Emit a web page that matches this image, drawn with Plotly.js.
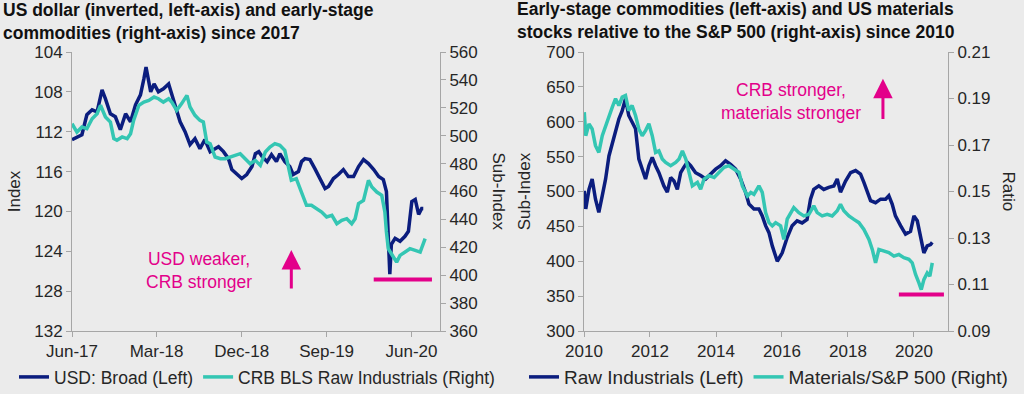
<!DOCTYPE html>
<html>
<head>
<meta charset="utf-8">
<script src="https://cdn.plot.ly/plotly-3.0.1.min.js"></script>
<style>
  html, body { margin: 0; padding: 0; background: #ebebeb; }
  #chart { width: 1024px; height: 394px; }
</style>
</head>
<body>
<div id="chart"></div>
<script>
// ---------- Left chart: USD broad (inverted, left) and CRB BLS Raw Industrials (right) ----------
const usdDates = ['2017-06-01','2017-07-03','2017-07-19','2017-08-05','2017-08-21','2017-09-06','2017-09-17','2017-10-03','2017-10-19','2017-11-04','2017-11-21','2017-12-07','2017-12-23','2018-01-08','2018-01-19','2018-01-26','2018-02-10','2018-02-21','2018-03-07','2018-03-23','2018-04-09','2018-04-19','2018-04-30','2018-05-16','2018-06-01','2018-06-17','2018-07-03','2018-07-19','2018-08-04','2018-08-21','2018-09-06','2018-09-17','2018-10-03','2018-10-19','2018-10-30','2018-11-15','2018-12-01','2018-12-17','2019-01-03','2019-01-14','2019-01-25','2019-02-05','2019-02-21','2019-03-07','2019-03-23','2019-04-03','2019-04-19','2019-05-05','2019-05-16','2019-06-02','2019-06-12','2019-06-23','2019-07-09','2019-07-25','2019-08-11','2019-08-27','2019-09-07','2019-09-23','2019-10-09','2019-10-25','2019-11-10','2019-11-27','2019-12-13','2019-12-29','2020-01-14','2020-01-31','2020-02-16','2020-03-02','2020-03-12','2020-03-18','2020-03-23','2020-03-28','2020-04-09','2020-04-25','2020-05-11','2020-05-22','2020-06-02','2020-06-13','2020-06-24','2020-07-04','2020-07-09'];
const usdValues = [112.8,112.3,110.3,109.8,110.0,107.8,108.7,110.2,110.5,111.8,110.2,111.0,109.3,108.3,106.7,105.5,108.0,107.2,108.0,107.7,107.2,108.3,109.5,111.0,112.0,113.3,112.7,113.7,112.8,114.0,113.7,113.5,114.0,114.7,115.8,116.3,116.7,116.3,115.5,114.2,114.0,114.5,115.0,114.3,115.0,114.2,115.0,115.5,116.3,116.0,115.0,114.7,114.8,115.7,116.8,117.7,117.5,116.7,116.3,115.8,116.5,116.5,115.5,114.8,115.2,115.8,116.5,116.8,118.0,122.7,126.3,123.3,122.7,123.0,122.5,122.0,119.0,118.8,120.3,119.7,119.7];

const crbDates = ['2017-06-01','2017-06-17','2017-07-03','2017-07-19','2017-08-05','2017-08-21','2017-09-01','2017-09-17','2017-10-03','2017-10-14','2017-10-24','2017-11-10','2017-11-26','2017-12-07','2017-12-17','2018-01-03','2018-01-19','2018-02-04','2018-02-21','2018-03-07','2018-03-23','2018-04-09','2018-04-19','2018-05-05','2018-05-21','2018-06-07','2018-06-17','2018-07-03','2018-07-19','2018-07-30','2018-08-10','2018-08-21','2018-09-06','2018-09-23','2018-10-09','2018-10-25','2018-11-10','2018-11-26','2018-12-12','2018-12-28','2019-01-14','2019-01-30','2019-02-15','2019-03-02','2019-03-18','2019-04-03','2019-04-19','2019-04-30','2019-05-10','2019-05-26','2019-06-12','2019-06-28','2019-07-14','2019-07-30','2019-08-16','2019-09-01','2019-09-18','2019-10-04','2019-10-20','2019-11-05','2019-11-21','2019-12-02','2019-12-13','2019-12-29','2020-01-14','2020-01-25','2020-02-10','2020-02-26','2020-03-07','2020-03-12','2020-03-18','2020-03-28','2020-04-14','2020-04-25','2020-05-11','2020-05-27','2020-06-13','2020-06-29','2020-07-15'];
const crbValues = [508.6,502.6,506.2,505.0,512.2,515.8,521.8,513.4,509.8,497.9,496.7,499.1,497.9,501.4,511.0,521.8,524.1,525.3,527.7,526.5,524.1,526.5,524.1,518.2,523.0,528.9,520.6,514.6,511.0,509.8,495.5,494.3,484.7,483.5,483.5,484.7,485.9,487.1,483.5,479.9,482.3,478.7,488.3,491.9,494.3,493.1,489.5,478.7,468.0,469.2,458.4,450.1,450.1,447.7,445.3,441.7,442.9,436.9,439.3,440.5,436.9,440.5,451.3,453.6,468.0,463.2,459.6,457.2,445.3,431.0,419.0,415.4,409.4,414.2,416.6,419.0,417.8,416.6,426.2];

const leftNames = ['USD: Broad (Left)', 'CRB BLS Raw Industrials (Right)'];
const leftTitle = 'US dollar (inverted, left-axis) and early-stage<br>commodities (right-axis) since 2017';

// ---------- Right chart: Raw Industrials (left) and Materials/S&P 500 (right) ----------
const rawDates = ['2010-01-04','2010-01-20','2010-02-25','2010-04-01','2010-05-08','2010-06-14','2010-07-22','2010-08-28','2010-10-04','2010-11-10','2010-12-16','2011-01-22','2011-02-28','2011-04-05','2011-05-11','2011-06-17','2011-07-25','2011-08-31','2011-10-07','2011-11-13','2011-12-20','2012-01-26','2012-03-03','2012-04-09','2012-06-03','2012-07-11','2012-08-17','2012-09-23','2012-10-30','2012-12-06','2013-01-11','2013-02-17','2013-03-26','2013-05-20','2013-07-15','2013-09-09','2013-11-03','2013-12-28','2014-02-21','2014-04-17','2014-06-11','2014-08-06','2014-09-30','2014-11-24','2015-01-01','2015-02-25','2015-04-21','2015-05-28','2015-07-04','2015-08-10','2015-09-16','2015-11-10','2016-01-04','2016-02-28','2016-04-23','2016-06-17','2016-08-11','2016-10-05','2016-11-12','2016-12-18','2017-02-12','2017-04-08','2017-06-02','2017-07-28','2017-09-04','2017-10-10','2017-12-05','2018-01-30','2018-03-26','2018-05-20','2018-06-26','2018-08-02','2018-09-08','2018-11-02','2018-12-28','2019-02-21','2019-03-29','2019-05-05','2019-06-10','2019-08-06','2019-09-30','2019-11-24','2020-01-01','2020-02-07','2020-03-14','2020-04-20','2020-05-27','2020-07-03','2020-07-22'];
const rawValues = [501,475,503,518,489,470,494,518,551,570,590,604,616,633,609,599,590,546.5,532,518,537,549,537,527,508,499,520,515,503,527,535,542,537,527,523,518,525,532,537,544,539,532,518,499,482,475,475,465,451,441,422,400,412,434,451,458,455,460,489,503,508,503,506,508,518,499,515,527,530,525,513,499,487,484,489,489,494,482,465,451,439,443,465,458,436,412,422,424,427];

const matDates = ['2010-01-04','2010-01-20','2010-02-25','2010-04-01','2010-05-08','2010-06-14','2010-07-22','2010-08-28','2010-10-04','2010-11-10','2010-12-16','2011-01-22','2011-02-28','2011-04-05','2011-05-11','2011-06-17','2011-07-25','2011-08-31','2011-10-07','2011-11-13','2011-12-20','2012-01-26','2012-03-03','2012-04-09','2012-05-16','2012-06-22','2012-08-17','2012-10-12','2012-11-18','2012-12-25','2013-01-31','2013-03-08','2013-04-14','2013-06-09','2013-07-15','2013-08-21','2013-10-16','2013-12-11','2014-02-04','2014-03-31','2014-05-25','2014-07-20','2014-09-13','2014-10-20','2014-12-15','2015-01-21','2015-02-25','2015-04-21','2015-05-28','2015-07-04','2015-08-10','2015-09-16','2015-10-23','2015-12-17','2016-01-22','2016-02-28','2016-04-04','2016-05-11','2016-07-06','2016-08-30','2016-10-25','2016-12-18','2017-01-25','2017-03-21','2017-05-16','2017-07-10','2017-09-04','2017-10-10','2017-11-16','2018-01-11','2018-03-07','2018-05-02','2018-06-26','2018-08-21','2018-09-27','2018-11-02','2018-12-09','2019-02-02','2019-03-29','2019-05-24','2019-07-18','2019-09-12','2019-11-06','2019-12-13','2020-01-19','2020-02-25','2020-03-22','2020-04-20','2020-05-27','2020-06-25','2020-07-22'];
const matValues = [0.1841,0.1740,0.1791,0.1769,0.1697,0.1668,0.1740,0.1783,0.1827,0.1863,0.1899,0.1870,0.1906,0.1913,0.1848,0.1870,0.1827,0.1769,0.1740,0.1762,0.1791,0.1740,0.1668,0.1675,0.1640,0.1625,0.1611,0.1625,0.1640,0.1675,0.1640,0.1582,0.1524,0.1539,0.1510,0.1553,0.1568,0.1560,0.1582,0.1604,0.1611,0.1596,0.1582,0.1524,0.1481,0.1496,0.1488,0.1524,0.1496,0.1409,0.1366,0.1352,0.1366,0.1352,0.1294,0.1381,0.1409,0.1431,0.1409,0.1395,0.1402,0.1438,0.1409,0.1395,0.1402,0.1395,0.1417,0.1445,0.1417,0.1395,0.1380,0.1366,0.1337,0.1294,0.1251,0.1193,0.1251,0.1244,0.1237,0.1222,0.1229,0.1215,0.1208,0.1193,0.1143,0.1107,0.1078,0.1121,0.1150,0.1136,0.1193];

const rightNames = ['Raw Industrials (Left)', 'Materials/S&P 500 (Right)'];
const rightTitle = 'Early-stage commodities (left-axis) and US materials<br>stocks relative to the S&P 500 (right-axis) since 2010';

// ---------- styles ----------
const NAVY = '#0b1d7e';
const TEAL = '#34c6b3';
const MAG = '#e3008a';
const BG = '#ebebeb';
const AXC = '#a6a6a6';
const FONT = 'Arial, "Liberation Sans", sans-serif';
const TXT = '#262626';
const TFONT = {family: FONT, size: 17, color: TXT};
const HFONT = {family: FONT, size: 17.5, color: '#111'};
const MFONT = {family: FONT, size: 17.5, color: MAG};

function axisBase(extra) {
  return Object.assign({
    showline: true, linecolor: AXC, linewidth: 1,
    ticks: 'outside', ticklen: 5, tickcolor: AXC, tickwidth: 1,
    showgrid: false, zeroline: false, fixedrange: true, automargin: false,
    tickfont: TFONT
  }, extra);
}

function legendObj(x, size) {
  return {orientation: 'h', x: x, xanchor: 'left', y: -0.165, yanchor: 'middle',
          font: {family: FONT, size: size, color: TXT}, bgcolor: 'rgba(0,0,0,0)'};
}

const traces = [
  {x: usdDates, y: usdValues, name: leftNames[0], type: 'scatter', mode: 'lines',
   line: {color: NAVY, width: 3.5}, xaxis: 'x', yaxis: 'y', legend: 'legend'},
  {x: crbDates, y: crbValues, name: leftNames[1], type: 'scatter', mode: 'lines',
   line: {color: TEAL, width: 3.5}, xaxis: 'x', yaxis: 'y2', legend: 'legend'},
  {x: rawDates, y: rawValues, name: rightNames[0], type: 'scatter', mode: 'lines',
   line: {color: NAVY, width: 3.5}, xaxis: 'x2', yaxis: 'y3', legend: 'legend2'},
  {x: matDates, y: matValues, name: rightNames[1], type: 'scatter', mode: 'lines',
   line: {color: TEAL, width: 3.5}, xaxis: 'x2', yaxis: 'y4', legend: 'legend2'}
];

const layout = {
  width: 1024, height: 394,
  margin: {l: 72, r: 76, t: 52, b: 63, autoexpand: false},
  paper_bgcolor: BG, plot_bgcolor: BG,
  font: TFONT,
  title: {text: '<b>' + leftTitle + '</b>', font: HFONT, automargin: false,
          x: 3/1024, xanchor: 'left', xref: 'container', y: 1 - 16/394, yanchor: 'top', yref: 'container'},
  showlegend: true,
  legend: legendObj(-0.0662, 17.5),
  legend2: legendObj(0.516, 19),
  xaxis: axisBase({domain: [0, 0.4201], anchor: 'y', type: 'date', range: ['2017-06-01', '2020-09-01'],
           tick0: '2017-06-01', dtick: 'M9', tickformat: '%b-%y'}),
  yaxis: axisBase({anchor: 'x', range: [132, 104], tick0: 104, dtick: 4,
           title: {text: 'Index', font: TFONT, standoff: 9}}),
  yaxis2: axisBase({anchor: 'x', overlaying: 'y', side: 'right', range: [360, 560], tick0: 360, dtick: 20}),
  xaxis2: axisBase({domain: [0.5845, 1], anchor: 'y3', type: 'date', range: ['2010-01-01', '2021-01-12'],
           tick0: '2010-01-01', dtick: 'M24', tickformat: '%Y'}),
  yaxis3: axisBase({anchor: 'x2', range: [300, 700], tick0: 300, dtick: 50,
           title: {text: 'Sub-Index', font: TFONT, standoff: 11}}),
  yaxis4: axisBase({anchor: 'x2', overlaying: 'y3', side: 'right', range: [0.09, 0.21], tick0: 0.09, dtick: 0.02, tickformat: '.2f'}),
  annotations: [
    // right chart title
    {xref: 'paper', yref: 'paper', x: (515 - 72) / 876, y: 1 + 55 / 279, xanchor: 'left', yanchor: 'top',
     align: 'left', showarrow: false, text: '<b>' + rightTitle + '</b>', font: HFONT},
    // right-side axis titles (read top to bottom)
    {xref: 'paper', yref: 'paper', x: (498 - 72) / 876, y: 0.5, text: 'Sub-Index', textangle: 90,
     showarrow: false, xanchor: 'center', yanchor: 'middle', font: TFONT},
    {xref: 'paper', yref: 'paper', x: (1008 - 72) / 876, y: 0.5, text: 'Ratio', textangle: 90,
     showarrow: false, xanchor: 'center', yanchor: 'middle', font: TFONT},
    // left chart callout
    {xref: 'x', yref: 'y2', x: '2018-07-17', y: 403.7, text: 'USD weaker,<br>CRB stronger',
     showarrow: false, align: 'center', font: MFONT},
    {xref: 'x', yref: 'y2', x: '2019-05-10', y: 418, axref: 'x', ayref: 'y2', ax: '2019-05-10', ay: 389.4,
     text: '', showarrow: true, arrowhead: 2, arrowsize: 1.3, arrowwidth: 3, arrowcolor: MAG},
    // right chart callout
    {xref: 'x2', yref: 'y3', x: '2016-04-08', y: 629.5, text: 'CRB stronger,<br>materials stronger',
     showarrow: false, align: 'center', font: MFONT},
    {xref: 'x2', yref: 'y3', x: '2019-01-23', y: 661.6, axref: 'x2', ayref: 'y3', ax: '2019-01-23', ay: 601.7,
     text: '', showarrow: true, arrowhead: 2, arrowsize: 1.3, arrowwidth: 3, arrowcolor: MAG}
  ],
  shapes: [
    {type: 'line', xref: 'x', yref: 'y2', x0: '2020-01-31', x1: '2020-08-06', y0: 397, y1: 397,
     line: {color: MAG, width: 4}},
    {type: 'line', xref: 'x2', yref: 'y4', x0: '2019-07-18', x1: '2020-11-28', y0: 0.1057, y1: 0.1057,
     line: {color: MAG, width: 4}}
  ]
};

Plotly.newPlot('chart', traces, layout, {displayModeBar: false, staticPlot: true});
</script>
</body>
</html>
